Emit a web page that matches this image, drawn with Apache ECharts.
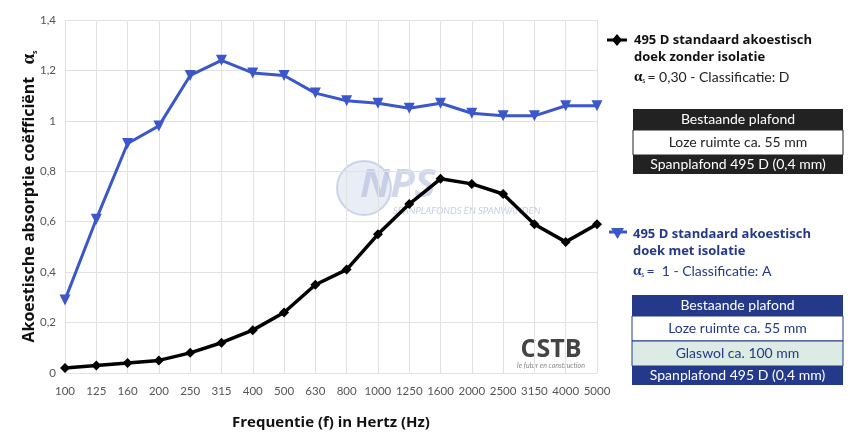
<!DOCTYPE html>
<html>
<head>
<meta charset="utf-8">
<script src="https://cdn.jsdelivr.net/npm/echarts@6/dist/echarts.min.js"></script>
<style>
  html, body { margin: 0; padding: 0; background: #fff; }
  #chart { width: 850px; height: 439px; }
</style>
</head>
<body>
<div id="chart"></div>
<script>
// frequenties (Hz)
const frequencies = ['100', '125', '160', '200', '250', '315', '400', '500', '630', '800',
  '1000', '1250', '1600', '2000', '2500', '3150', '4000', '5000']
// zonder isolatie (zwart)
const zonderIsolatie = [0.02, 0.03, 0.04, 0.05, 0.08, 0.12, 0.17, 0.24, 0.35, 0.41,
  0.55, 0.67, 0.77, 0.75, 0.71, 0.59, 0.52, 0.59]
// met isolatie (blauw)
const metIsolatie = [0.29, 0.61, 0.91, 0.98, 1.18, 1.24, 1.19, 1.18, 1.11, 1.08,
  1.07, 1.05, 1.07, 1.03, 1.02, 1.02, 1.06, 1.06]

const blue = '#3b57c9'
const navy = '#24398a'
const font = 'Lato'
const boldFont = 'Open Sans'

const chart = echarts.init(document.getElementById('chart'))

// opbouw tabellen rechts
function tableRows (x, y, w, rows) {
  const els = []
  let top = y
  rows.forEach((r) => {
    els.push({
      type: 'rect',
      shape: { x: x, y: top, width: w, height: r.h },
      style: { fill: r.bg, stroke: r.stroke || null, lineWidth: 1 }
    })
    els.push({
      type: 'text',
      x: x + w / 2,
      y: top + r.h / 2,
      style: {
        text: r.text, fill: r.color, font: '14px ' + font,
        align: 'center', verticalAlign: 'middle'
      }
    })
    top += r.h
  })
  return els
}

const graphicEls = [
  // legenda zwart
  { type: 'line', shape: { x1: 607, y1: 40, x2: 627, y2: 40 }, style: { stroke: '#000', lineWidth: 3 } },
  { type: 'polygon', shape: { points: [[617, 34], [622, 40], [617, 46], [612, 40]] }, style: { fill: '#000' } },
  { type: 'text', x: 634, y: 40, style: { text: '495 D standaard akoestisch', fill: '#111', font: 'bold 13px ' + boldFont, verticalAlign: 'middle' } },
  { type: 'text', x: 634, y: 57, style: { text: 'doek zonder isolatie', fill: '#111', font: 'bold 13px ' + boldFont, verticalAlign: 'middle' } },
  {
    type: 'text', x: 634, y: 77,
    style: {
      text: '{a|α}{s|s}{t|= 0,30 - Classificatie: D}', verticalAlign: 'middle',
      rich: {
        a: { font: 'bold 15px serif', fill: '#111' },
        s: { font: '7px ' + font, fill: '#111', padding: [8, 2, 0, 0] },
        t: { font: '14px ' + font, fill: '#222' }
      }
    }
  },
  // legenda blauw
  { type: 'line', shape: { x1: 609, y1: 232, x2: 627, y2: 232 }, style: { stroke: blue, lineWidth: 3 } },
  { type: 'polygon', shape: { points: [[611, 228], [624, 228], [617.5, 239]] }, style: { fill: blue } },
  { type: 'text', x: 633, y: 234, style: { text: '495 D standaard akoestisch', fill: navy, font: 'bold 13px ' + boldFont, verticalAlign: 'middle' } },
  { type: 'text', x: 633, y: 251, style: { text: 'doek met isolatie', fill: navy, font: 'bold 13px ' + boldFont, verticalAlign: 'middle' } },
  {
    type: 'text', x: 633, y: 271,
    style: {
      text: '{a|α}{s|s}{t|=  1 - Classificatie: A}', verticalAlign: 'middle',
      rich: {
        a: { font: 'bold 15px serif', fill: navy },
        s: { font: '7px ' + font, fill: navy, padding: [8, 2, 0, 0] },
        t: { font: '14px ' + font, fill: navy }
      }
    }
  },
  // watermerken
  { type: 'circle', shape: { cx: 364, cy: 188, r: 27 }, style: { fill: 'rgba(180,195,225,0.3)', stroke: 'rgba(150,170,210,0.45)', lineWidth: 2 } },
  { type: 'text', x: 360, y: 186, style: { text: 'NPS', fill: 'rgba(165,178,215,0.5)', font: 'italic bold 40px ' + boldFont, verticalAlign: 'middle' } },
  { type: 'text', x: 393, y: 211, style: { text: 'SPANPLAFONDS EN SPANWANDEN', fill: 'rgba(150,165,205,0.55)', font: 'italic 9.5px ' + font, verticalAlign: 'middle' } },
  { type: 'text', x: 551, y: 350, style: { text: 'CSTB', fill: '#444', font: 'bold 25px ' + boldFont, align: 'center', verticalAlign: 'middle' } },
  { type: 'text', x: 551, y: 366, style: { text: 'le futur en construction', fill: '#888', font: 'italic 7px ' + font, align: 'center', verticalAlign: 'middle' } }
].concat(
  tableRows(633, 109, 210, [
    { h: 21, bg: '#222222', text: 'Bestaande plafond', color: '#fff' },
    { h: 25, bg: '#ffffff', stroke: '#222', text: 'Loze ruimte ca. 55 mm', color: '#222' },
    { h: 19, bg: '#222222', text: 'Spanplafond 495 D (0,4 mm)', color: '#fff' }
  ]),
  tableRows(632, 295, 211, [
    { h: 21, bg: navy, text: 'Bestaande plafond', color: '#fff' },
    { h: 25, bg: '#ffffff', stroke: navy, text: 'Loze ruimte ca. 55 mm', color: navy },
    { h: 25, bg: '#dcebe3', stroke: navy, text: 'Glaswol ca. 100 mm', color: navy },
    { h: 19, bg: navy, text: 'Spanplafond 495 D (0,4 mm)', color: '#fff' }
  ])
)

const option = {
  animation: false,
  textStyle: { fontFamily: font },
  grid: { left: 65, right: 253, top: 20, bottom: 66 },
  xAxis: {
    type: 'category',
    data: frequencies,
    boundaryGap: false,
    name: 'Frequentie (f) in Hertz (Hz)',
    nameLocation: 'middle',
    nameGap: 42,
    nameTextStyle: { fontSize: 15, fontWeight: 'bold', color: '#111', fontFamily: boldFont },
    axisLine: { show: false },
    axisTick: { show: false },
    axisLabel: { interval: 0, color: '#555', fontSize: 11.5, margin: 12 },
    splitLine: { show: true, interval: 0, lineStyle: { color: '#e2e2e2', width: 1 } }
  },
  yAxis: {
    type: 'value',
    min: 0,
    max: 1.4,
    interval: 0.2,
    name: 'Akoestische absorptie coëfficiënt {a|α}{s|s}',
    nameLocation: 'middle',
    nameRotate: 90,
    nameGap: 26,
    nameMoveOverlap: false,
    nameTextStyle: {
      fontSize: 16, fontWeight: 'bold', color: '#111', fontFamily: boldFont,
      rich: {
        a: { fontSize: 19, fontWeight: 'bold', fontFamily: 'serif', color: '#111', padding: [0, 0, 0, 8] },
        s: { fontSize: 7, color: '#111', padding: [10, 0, 0, 0] }
      }
    },
    axisLine: { show: false },
    axisTick: { show: false },
    axisLabel: {
      color: '#555', fontSize: 11.5, margin: 9,
      formatter: (v) => String(Math.round(v * 10) / 10).replace('.', ',')
    },
    splitLine: { lineStyle: { color: '#e2e2e2', width: 1 } }
  },
  series: [
    {
      name: 'met isolatie',
      type: 'line',
      data: metIsolatie,
      symbol: 'triangle',
      symbolRotate: 180,
      symbolSize: 11,
      lineStyle: { color: blue, width: 3 },
      itemStyle: { color: blue }
    },
    {
      name: 'zonder isolatie',
      type: 'line',
      data: zonderIsolatie,
      symbol: 'diamond',
      symbolSize: 10,
      lineStyle: { color: '#000', width: 3.5 },
      itemStyle: { color: '#000' }
    }
  ],
  graphic: graphicEls
}

chart.setOption(option)
</script>
</body>
</html>
